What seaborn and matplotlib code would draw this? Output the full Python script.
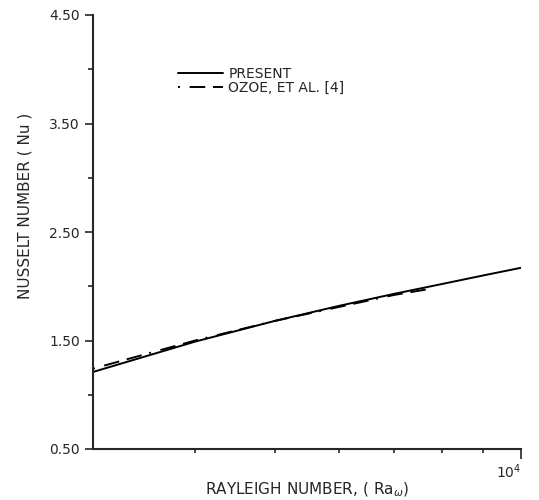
import seaborn as sns
import matplotlib.pyplot as plt
import pandas as pd

# Rayleigh number vs Nusselt number
present_ra = [3000, 4000, 5000, 6000, 7000, 8000, 9000, 10000]
present_nu = [1.21, 1.49, 1.68, 1.82, 1.93, 2.02, 2.10, 2.17]

ozoe_ra = [3000, 3500, 4000, 5000, 6000, 7000, 7800]
ozoe_nu = [1.24, 1.38, 1.50, 1.68, 1.81, 1.92, 1.98]

y_ticks = [0.5, 1.5, 2.5, 3.5, 4.5]
y_tick_labels = ["0.50", "1.50", "2.50", "3.50", "4.50"]
y_minor = [1.0, 2.0, 3.0, 4.0]
x_minor = [4000, 5000, 6000, 7000, 8000, 9000]

df = pd.concat([
    pd.DataFrame({"ra": present_ra, "nu": present_nu, "src": "PRESENT"}),
    pd.DataFrame({"ra": ozoe_ra, "nu": ozoe_nu, "src": "OZOE, ET AL. [4]"}),
])

sns.set_style("ticks")
plt.rcParams["font.family"] = ["DejaVu Sans"]

fig = plt.figure(figsize=(5.39, 5.0), dpi=100)
ax = fig.add_axes([0.1725, 0.102, 0.794, 0.868])

sns.lineplot(data=df, x="ra", y="nu", hue="src", style="src",
             palette=["black", "black"],
             dashes={"PRESENT": "", "OZOE, ET AL. [4]": (1, 5, 8, 4, 8, 4)},
             linewidth=1.4, ax=ax)

ax.set_xscale("log")
ax.set_xlim(3000, 10000)
ax.set_ylim(0.5, 4.5)

ax.set_xticks([10000], labels=["10$^4$"])
ax.set_xticks(x_minor, labels=[""] * len(x_minor), minor=True)
plt.setp(ax.get_xticklabels(), ha="right")
ax.set_yticks(y_ticks, labels=y_tick_labels)
ax.set_yticks(y_minor, minor=True)

ax.tick_params(axis="x", which="major", length=7, width=1.2, pad=3, labelsize=10)
ax.tick_params(axis="x", which="minor", length=3, width=1.2)
ax.tick_params(axis="y", which="major", length=6, width=1.2, labelsize=10)
ax.tick_params(axis="y", which="minor", length=3.5, width=1.2)

for side in ["top", "right"]:
    ax.spines[side].set_visible(False)
for side in ["left", "bottom"]:
    ax.spines[side].set_linewidth(1.5)

ax.set_xlabel("RAYLEIGH NUMBER, ( Ra$_\\omega$)", fontsize=11)
ax.set_ylabel("NUSSELT NUMBER ( Nu )", fontsize=11)
ax.xaxis.set_label_coords(0.5, -0.072)
ax.yaxis.set_label_coords(-0.142, 0.56)

ax.legend(loc="upper left", bbox_to_anchor=(0.17, 0.91), frameon=False,
          handlelength=3.2, handletextpad=0.4, labelspacing=0.0,
          fontsize=10, title=None)

fig.savefig("out.png", dpi=100)
